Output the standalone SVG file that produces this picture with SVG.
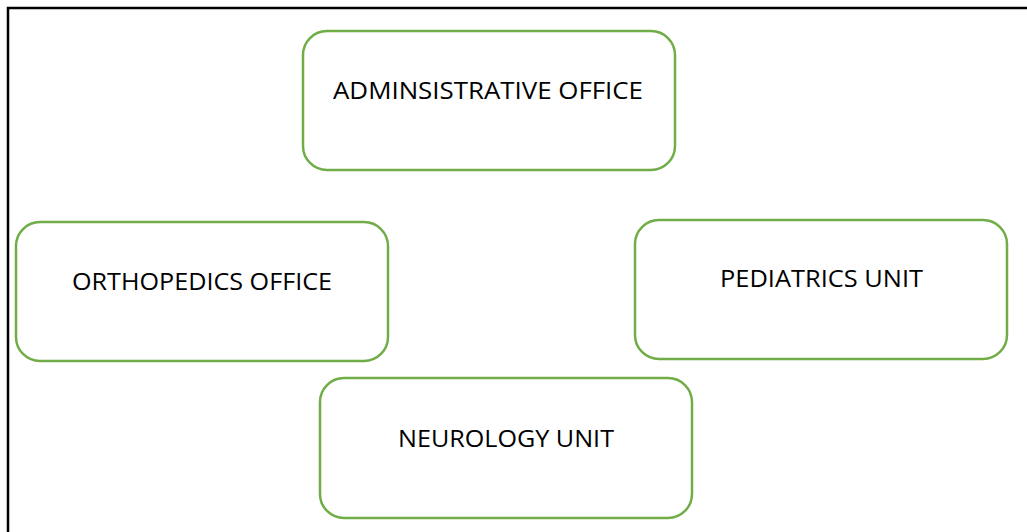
<svg xmlns="http://www.w3.org/2000/svg" width="1027" height="532" viewBox="0 0 1027 532">
<style>
.box{fill:#fff;stroke:#70AD47;stroke-width:2.5}
.lbl{font-family:"Open Sans","Liberation Sans",sans-serif;font-size:24px;fill:#000;text-anchor:middle}
</style>
<rect x="0" y="0" width="1027" height="532" fill="#fff"/>
<path d="M8 532 V8 H1027" fill="none" stroke="#000" stroke-width="2.5"/>
<g id="connectors"></g>
<g id="admin">
<rect class="box" x="303" y="31" width="372" height="139" rx="24"/>
<text class="lbl" x="488" y="99" textLength="310" lengthAdjust="spacingAndGlyphs">ADMINSISTRATIVE OFFICE</text>
</g>
<g id="ortho">
<rect class="box" x="16" y="222" width="372" height="139" rx="24"/>
<text class="lbl" x="202" y="290" textLength="260" lengthAdjust="spacingAndGlyphs">ORTHOPEDICS OFFICE</text>
</g>
<g id="pediatrics">
<rect class="box" x="635" y="220" width="372" height="139" rx="24"/>
<text class="lbl" x="821.5" y="287" textLength="203" lengthAdjust="spacingAndGlyphs">PEDIATRICS UNIT</text>
</g>
<g id="neurology">
<rect class="box" x="320" y="378" width="372" height="140" rx="24"/>
<text class="lbl" x="506" y="447" textLength="216" lengthAdjust="spacingAndGlyphs">NEUROLOGY UNIT</text>
</g>
</svg>
